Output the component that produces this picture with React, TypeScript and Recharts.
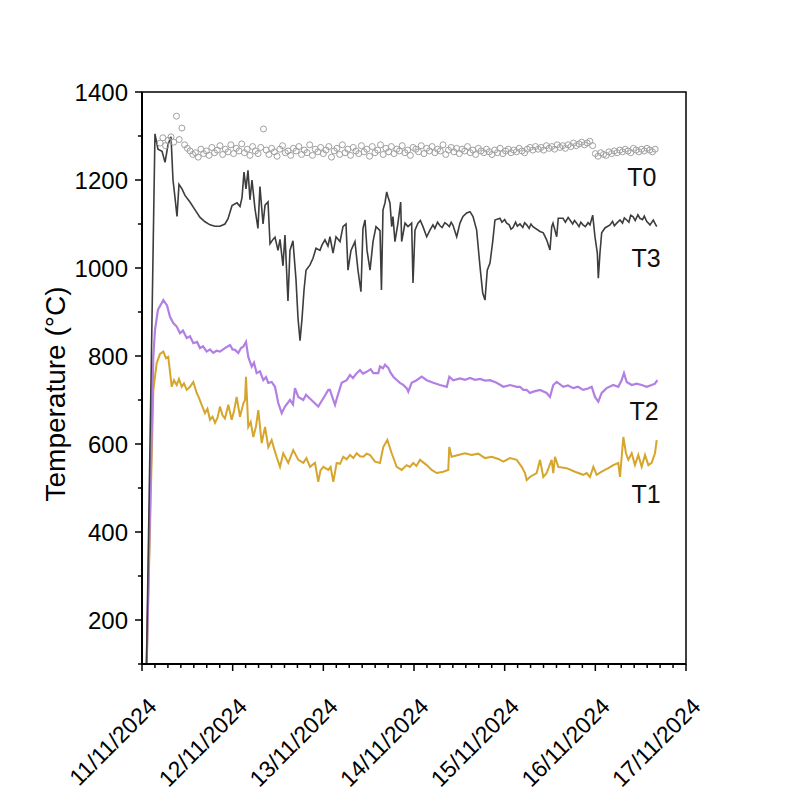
import { ComposedChart, Line, Scatter, XAxis, YAxis, ReferenceArea, ReferenceDot, Label } from "recharts";

// time axis in days after 11/11/2024 00:00
const dateLabels = ["11/11/2024", "12/11/2024", "13/11/2024", "14/11/2024", "15/11/2024", "16/11/2024", "17/11/2024"];

const t0Days = [
  0.2, 0.23, 0.26, 0.29, 0.32, 0.35, 0.38, 0.41, 0.44, 0.47,
  0.5, 0.53, 0.56, 0.59, 0.62, 0.65, 0.68, 0.71, 0.74, 0.77,
  0.8, 0.83, 0.86, 0.89, 0.92, 0.95, 0.98, 1.01, 1.04, 1.07,
  1.1, 1.13, 1.16, 1.19, 1.22, 1.25, 1.28, 1.31, 1.34, 1.37,
  1.4, 1.43, 1.46, 1.49, 1.52, 1.55, 1.58, 1.61, 1.64, 1.67,
  1.7, 1.73, 1.76, 1.79, 1.82, 1.85, 1.88, 1.91, 1.94, 1.97,
  2.0, 2.03, 2.06, 2.09, 2.12, 2.15, 2.18, 2.21, 2.24, 2.27,
  2.3, 2.33, 2.36, 2.39, 2.42, 2.45, 2.48, 2.51, 2.54, 2.57,
  2.6, 2.63, 2.66, 2.69, 2.72, 2.75, 2.78, 2.81, 2.84, 2.87,
  2.9, 2.93, 2.96, 2.99, 3.02, 3.05, 3.08, 3.11, 3.14, 3.17,
  3.2, 3.23, 3.26, 3.29, 3.32, 3.35, 3.38, 3.41, 3.44, 3.47,
  3.5, 3.53, 3.56, 3.59, 3.62, 3.65, 3.68, 3.71, 3.74, 3.77,
  3.8, 3.83, 3.86, 3.89, 3.92, 3.95, 3.98, 4.01, 4.04, 4.07,
  4.1, 4.13, 4.16, 4.19, 4.22, 4.25, 4.28, 4.31, 4.34, 4.37,
  4.4, 4.43, 4.46, 4.49, 4.52, 4.55, 4.58, 4.61, 4.64, 4.67,
  4.7, 4.73, 4.76, 4.79, 4.82, 4.85, 4.88, 4.91, 4.94, 4.97,
  5.0, 5.03, 5.06, 5.09, 5.12, 5.15, 5.18, 5.21, 5.24, 5.27,
  5.3, 5.33, 5.36, 5.39, 5.42, 5.45, 5.48, 5.51, 5.54, 5.57,
  5.6, 5.63, 5.66,
];
const t0Temp = [
  1284, 1296, 1278, 1290, 1298, 1286, 1345, 1292, 1318, 1280,
  1272, 1266, 1258, 1262, 1252, 1270, 1260, 1266, 1256, 1274,
  1262, 1268, 1278, 1258, 1270, 1264, 1280, 1260, 1272, 1266,
  1282, 1262, 1270, 1256, 1276, 1266, 1260, 1274, 1316, 1268,
  1258, 1272, 1264, 1254, 1270, 1278, 1262, 1266, 1256, 1272,
  1266, 1276, 1258, 1268, 1262, 1280, 1256, 1270, 1264, 1274,
  1260, 1268, 1276, 1252, 1266, 1272, 1258, 1280, 1262, 1270,
  1256, 1274, 1266, 1260, 1278, 1264, 1270, 1254, 1276, 1262,
  1268, 1280, 1258, 1272, 1264, 1276, 1260, 1270, 1266, 1278,
  1262, 1268, 1256, 1274, 1270, 1264, 1278, 1260, 1272, 1266,
  1276, 1262, 1270, 1266, 1280, 1258, 1268, 1274, 1264, 1272,
  1260, 1270, 1266, 1276, 1262, 1268, 1258, 1272, 1266, 1262,
  1270, 1264, 1258, 1268, 1262, 1272, 1260, 1266, 1270, 1262,
  1268, 1264, 1272, 1266, 1262, 1270, 1274, 1268, 1276, 1270,
  1274, 1268, 1278, 1272, 1276, 1270, 1280, 1274, 1278, 1272,
  1280, 1276, 1284, 1278, 1282, 1286, 1280, 1284, 1288, 1278,
  1260, 1254, 1262, 1258, 1256, 1264, 1260, 1266, 1262, 1268,
  1264, 1270, 1266, 1262, 1272, 1268, 1264, 1270, 1266, 1272,
  1268, 1264, 1270,
];

const t3Days = [
  0.044, 0.143, 0.176, 0.221, 0.254, 0.287, 0.32, 0.342, 0.364, 0.386, 0.408, 0.441, 0.474, 0.529, 0.585, 0.64,
  0.695, 0.75, 0.805, 0.86, 0.915, 0.949, 0.993, 1.048, 1.081, 1.103, 1.125, 1.147, 1.169, 1.191, 1.213, 1.246,
  1.279, 1.301, 1.335, 1.357, 1.39, 1.412, 1.445, 1.467, 1.5, 1.522, 1.555, 1.577, 1.61, 1.632, 1.665, 1.698,
  1.721, 1.743, 1.765, 1.787, 1.809, 1.853, 1.886, 1.919, 1.963, 1.985, 2.018, 2.051, 2.073, 2.107, 2.14, 2.184,
  2.217, 2.25, 2.272, 2.305, 2.349, 2.382, 2.415, 2.437, 2.46, 2.482, 2.515, 2.548, 2.581, 2.625, 2.641, 2.658,
  2.68, 2.699, 2.713, 2.735, 2.754, 2.768, 2.79, 2.823, 2.853, 2.864, 2.901, 2.934, 2.974, 2.989, 3.011, 3.044,
  3.07, 3.099, 3.14, 3.176, 3.209, 3.23, 3.26, 3.287, 3.31, 3.34, 3.361, 3.39, 3.41, 3.43, 3.471, 3.507,
  3.54, 3.581, 3.618, 3.651, 3.691, 3.728, 3.758, 3.783, 3.808, 3.838, 3.868, 3.893, 3.948, 3.97, 4.0, 4.022,
  4.05, 4.07, 4.092, 4.12, 4.14, 4.169, 4.2, 4.22, 4.243, 4.27, 4.29, 4.312, 4.39, 4.426, 4.463, 4.5,
  4.519, 4.533, 4.574, 4.591, 4.643, 4.67, 4.7, 4.72, 4.75, 4.77, 4.794, 4.82, 4.84, 4.864, 4.89, 4.92,
  4.941, 4.971, 4.996, 5.022, 5.033, 5.051, 5.07, 5.106, 5.162, 5.19, 5.21, 5.236, 5.272, 5.3, 5.32, 5.346,
  5.37, 5.39, 5.415, 5.44, 5.47, 5.492, 5.52, 5.54, 5.566, 5.603, 5.639, 5.677,
];
const t3Temp = [
  30, 1305, 1270, 1265, 1240, 1280, 1298, 1200, 1160, 1117, 1190, 1180, 1165, 1150, 1132, 1115,
  1105, 1098, 1095, 1095, 1100, 1112, 1142, 1148, 1140, 1160, 1218, 1180, 1222, 1155, 1200, 1135,
  1090, 1185, 1100, 1143, 1150, 1055, 1065, 1070, 1040, 1065, 1005, 1075, 925, 1040, 1062, 975,
  885, 835, 885, 950, 995, 1007, 1022, 1045, 1040, 1052, 1064, 1050, 1071, 1034, 1071, 1060,
  1094, 1100, 995, 1040, 1060, 995, 946, 1090, 1109, 1040, 995, 1060, 1094, 1085, 950, 1132,
  1148, 1173, 1162, 1148, 1094, 1117, 1060, 1102, 1150, 1060, 1102, 1094, 1102, 966, 1086, 1102,
  1108, 1094, 1071, 1086, 1098, 1090, 1104, 1096, 1092, 1103, 1100, 1094, 1104, 1097, 1071, 1102,
  1117, 1125, 1128, 1117, 1086, 1003, 943, 927, 995, 1011, 1060, 1109, 1113, 1104, 1110, 1102,
  1098, 1088, 1092, 1104, 1095, 1100, 1092, 1103, 1098, 1090, 1100, 1094, 1083, 1080, 1064, 1041,
  1094, 1102, 1071, 1113, 1113, 1104, 1115, 1109, 1100, 1108, 1102, 1094, 1104, 1098, 1094, 1103,
  1098, 1120, 1071, 1034, 977, 1034, 1080, 1091, 1098, 1106, 1096, 1102, 1109, 1102, 1114, 1109,
  1104, 1120, 1117, 1108, 1121, 1113, 1110, 1118, 1106, 1098, 1109, 1094,
];

const t2Days = [
  0.044, 0.125, 0.143, 0.176, 0.235, 0.276, 0.309, 0.345, 0.383, 0.419, 0.452, 0.493, 0.529, 0.566, 0.607, 0.64,
  0.673, 0.714, 0.75, 0.786, 0.822, 0.86, 0.915, 0.971, 0.998, 1.026, 1.062, 1.092, 1.117, 1.147, 1.172, 1.21,
  1.235, 1.265, 1.301, 1.338, 1.368, 1.393, 1.43, 1.467, 1.503, 1.541, 1.577, 1.632, 1.665, 1.687, 1.724, 1.779,
  1.809, 1.834, 1.889, 1.944, 2.0, 2.055, 2.073, 2.11, 2.129, 2.151, 2.202, 2.258, 2.294, 2.327, 2.368, 2.404,
  2.437, 2.478, 2.522, 2.551, 2.606, 2.625, 2.658, 2.68, 2.717, 2.741, 2.772, 2.807, 2.845, 2.878, 2.919, 2.937,
  2.974, 3.029, 3.085, 3.14, 3.213, 3.287, 3.361, 3.39, 3.433, 3.507, 3.562, 3.618, 3.673, 3.728, 3.783, 3.838,
  3.912, 3.985, 4.059, 4.133, 4.169, 4.205, 4.243, 4.279, 4.316, 4.39, 4.463, 4.5, 4.536, 4.574, 4.647, 4.698,
  4.757, 4.808, 4.867, 4.919, 4.96, 4.996, 5.033, 5.07, 5.125, 5.198, 5.253, 5.29, 5.316, 5.346, 5.401, 5.456,
  5.511, 5.566, 5.621, 5.658, 5.684,
];
const t2Temp = [
  30, 798, 859, 905, 927, 915, 889, 875, 867, 852, 858, 841, 845, 829, 832, 818,
  822, 810, 815, 807, 812, 810, 818, 825, 815, 814, 807, 818, 821, 832, 798, 776,
  785, 761, 765, 745, 752, 739, 741, 730, 693, 670, 685, 700, 690, 727, 707, 700,
  712, 707, 696, 685, 704, 723, 723, 700, 689, 705, 739, 745, 757, 750, 761, 768,
  760, 764, 770, 761, 761, 776, 772, 780, 773, 762, 753, 746, 739, 735, 727, 719,
  739, 745, 753, 745, 739, 734, 730, 753, 745, 749, 746, 750, 746, 748, 744, 745,
  739, 730, 734, 730, 730, 723, 723, 716, 719, 723, 716, 707, 734, 741, 730, 733,
  727, 730, 723, 726, 730, 707, 696, 716, 727, 734, 730, 745, 761, 741, 734, 737,
  734, 730, 734, 737, 745,
];

const t1Days = [
  0.044, 0.125, 0.162, 0.199, 0.235, 0.265, 0.29, 0.328, 0.353, 0.383, 0.408, 0.438, 0.463, 0.493, 0.529, 0.566,
  0.603, 0.629, 0.658, 0.695, 0.722, 0.75, 0.778, 0.805, 0.833, 0.86, 0.888, 0.915, 0.952, 0.989, 1.015, 1.044,
  1.081, 1.117, 1.136, 1.147, 1.172, 1.199, 1.228, 1.257, 1.283, 1.32, 1.357, 1.393, 1.43, 1.456, 1.486, 1.522,
  1.558, 1.613, 1.668, 1.724, 1.779, 1.814, 1.853, 1.908, 1.944, 1.969, 2.0, 2.055, 2.08, 2.11, 2.147, 2.184,
  2.22, 2.257, 2.294, 2.331, 2.368, 2.404, 2.441, 2.478, 2.515, 2.57, 2.625, 2.661, 2.706, 2.754, 2.809, 2.864,
  2.919, 2.955, 2.992, 3.027, 3.066, 3.14, 3.195, 3.25, 3.322, 3.378, 3.389, 3.415, 3.488, 3.562, 3.636, 3.709,
  3.783, 3.857, 3.93, 3.985, 4.059, 4.133, 4.188, 4.224, 4.243, 4.279, 4.353, 4.39, 4.426, 4.463, 4.518, 4.536,
  4.555, 4.591, 4.683, 4.775, 4.867, 4.904, 4.941, 4.978, 5.015, 5.07, 5.143, 5.198, 5.253, 5.272, 5.309, 5.338,
  5.364, 5.401, 5.437, 5.474, 5.511, 5.548, 5.585, 5.621, 5.658, 5.677,
];
const t1Temp = [
  30, 723, 784, 805, 810, 795, 798, 730, 745, 734, 748, 730, 738, 723, 730, 741,
  716, 705, 689, 670, 680, 655, 662, 648, 660, 685, 665, 658, 689, 655, 675, 707,
  662, 692, 700, 753, 639, 650, 616, 640, 677, 602, 639, 593, 609, 590, 570, 548,
  579, 557, 586, 564, 557, 568, 548, 557, 514, 540, 548, 541, 548, 514, 557, 555,
  571, 565, 575, 568, 579, 572, 571, 578, 575, 560, 557, 593, 609, 579, 548, 541,
  552, 548, 557, 550, 564, 552, 541, 534, 537, 541, 593, 571, 575, 579, 575, 578,
  568, 571, 566, 560, 568, 564, 548, 534, 518, 525, 534, 564, 525, 534, 564, 534,
  571, 548, 545, 537, 530, 534, 525, 548, 530, 537, 545, 552, 557, 525, 616, 579,
  564, 579, 552, 575, 548, 575, 552, 557, 579, 609,
];

const toPoints = (days: number[], temps: number[]) => days.map((t, i) => ({ t, v: temps[i] }));
const t0Data = toPoints(t0Days, t0Temp);
const t1Data = toPoints(t1Days, t1Temp);
const t2Data = toPoints(t2Days, t2Temp);
const t3Data = toPoints(t3Days, t3Temp);

const xTicks: number[] = [];
for (let k = 0; k <= 42; k++) xTicks.push(k / 7);
const yTicks: number[] = [];
for (let v = 100; v <= 1400; v += 100) yTicks.push(v);

const FONT = "'Liberation Sans', Arial, sans-serif";

const XTick = (props: any) => {
  const { x, y, payload } = props;
  const k = Math.round(payload.value * 7);
  const major = k % 7 === 0;
  return (
    <g transform={`translate(${x},${y})`}>
      <line x1={0} y1={0} x2={0} y2={major ? 7 : 4} stroke="#000" strokeWidth={1.5} />
      {major && (
        <text x={16} y={44} transform="rotate(-45 16 44)" textAnchor="end" fontSize={23} fontFamily={FONT} fill="#000">
          {dateLabels[k / 7]}
        </text>
      )}
    </g>
  );
};

const YTick = (props: any) => {
  const { x, y, payload } = props;
  const major = payload.value % 200 === 0;
  return (
    <g transform={`translate(${x},${y})`}>
      <line x1={major ? -7 : -4} y1={0} x2={0} y2={0} stroke="#000" strokeWidth={1.5} />
      {major && (
        <text x={-14} y={0} dy="0.36em" textAnchor="end" fontSize={24} fontFamily={FONT} fill="#000">
          {payload.value}
        </text>
      )}
    </g>
  );
};

const Ring = (props: any) => (
  <circle cx={props.cx} cy={props.cy} r={3} fill="none" stroke="#a0a0a0" strokeWidth={1} />
);

const AxisTitle = () => (
  <text x={47} y={386} transform="rotate(-90 47 386)" textAnchor="middle" dominantBaseline="central" fontSize={28} fontFamily={FONT} fill="#000">
    Temperature (°C)
  </text>
);

const seriesLabel = (text: string) => ({ value: text, position: "center" as const, fill: "#111", fontSize: 25, fontFamily: FONT });

export default function App() {
  return (
    <ComposedChart width={784} height={784} margin={{ top: 84, right: 106, bottom: 28, left: 54 }}>
      <XAxis
        type="number"
        dataKey="t"
        domain={[0, 6]}
        allowDataOverflow
        ticks={xTicks}
        interval={0}
        tick={<XTick />}
        tickLine={false}
        tickSize={0}
        tickMargin={0}
        height={100}
        axisLine={{ stroke: "#000", strokeWidth: 2 }}
      />
      <YAxis
        type="number"
        dataKey="v"
        domain={[100, 1400]}
        allowDataOverflow
        ticks={yTicks}
        interval={0}
        tick={<YTick />}
        tickLine={false}
        tickSize={0}
        tickMargin={0}
        width={80}
        axisLine={{ stroke: "#000", strokeWidth: 2 }}
      >
        <Label content={<AxisTitle />} />
      </YAxis>
      <ReferenceArea x1={0} x2={6} y1={100} y2={1400} fill="none" stroke="#000" strokeWidth={1.5} />
      <Line data={t1Data} dataKey="v" stroke="#d6a52c" strokeWidth={2} dot={false} isAnimationActive={false} />
      <Line data={t2Data} dataKey="v" stroke="#b27fe2" strokeWidth={2.2} dot={false} isAnimationActive={false} />
      <Line data={t3Data} dataKey="v" stroke="#3d3d3d" strokeWidth={1.6} dot={false} isAnimationActive={false} />
      <Scatter data={t0Data} dataKey="v" shape={<Ring />} isAnimationActive={false} />
      <ReferenceDot x={5.514} y={1207} r={0} stroke="none" label={seriesLabel("T0")} />
      <ReferenceDot x={5.559} y={1023} r={0} stroke="none" label={seriesLabel("T3")} />
      <ReferenceDot x={5.537} y={675} r={0} stroke="none" label={seriesLabel("T2")} />
      <ReferenceDot x={5.559} y={486} r={0} stroke="none" label={seriesLabel("T1")} />
    </ComposedChart>
  );
}
